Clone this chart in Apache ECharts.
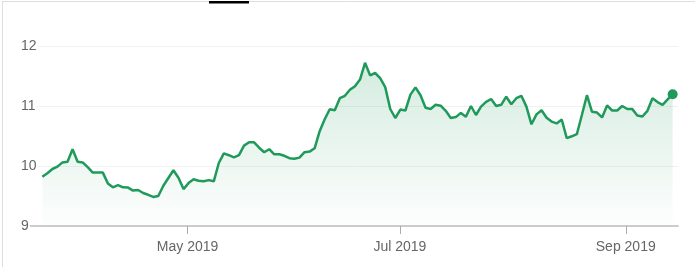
<!DOCTYPE html>
<html>
<head>
<meta charset="utf-8">
<script src="https://cdn.jsdelivr.net/npm/echarts@6/dist/echarts.min.js"></script>
<style>
  html, body { margin: 0; padding: 0; background: #fff; }
  #chart { width: 695px; height: 267px; }
</style>
</head>
<body>
<div id="chart"></div>
<script>
// Daily closing values (trading days, mid-March to mid-September 2019)
const values = [
  9.82, 9.88, 9.95, 9.99, 10.06, 10.07, 10.28, 10.07, 10.06, 9.98,
  9.89, 9.89, 9.89, 9.71, 9.645, 9.68, 9.645, 9.64, 9.59, 9.60,
  9.55, 9.52, 9.485, 9.50, 9.67, 9.80, 9.93, 9.805, 9.615, 9.715,
  9.78, 9.755, 9.745, 9.765, 9.745, 10.05, 10.21, 10.18, 10.145, 10.18,
  10.34, 10.395, 10.395, 10.305, 10.23, 10.28, 10.195, 10.195, 10.17, 10.13,
  10.12, 10.14, 10.23, 10.24, 10.295, 10.58, 10.78, 10.945, 10.93, 11.13,
  11.17, 11.27, 11.33, 11.44, 11.72, 11.51, 11.55, 11.465, 11.315, 10.95,
  10.80, 10.94, 10.925, 11.19, 11.31, 11.18, 10.97, 10.95, 11.02, 11.005,
  10.92, 10.80, 10.815, 10.885, 10.82, 11.00, 10.85, 10.99, 11.07, 11.115,
  11.00, 11.02, 11.155, 11.03, 11.13, 11.17, 10.99, 10.695, 10.86, 10.93,
  10.805, 10.74, 10.71, 10.775, 10.465, 10.495, 10.53, 10.85, 11.18, 10.905,
  10.89, 10.81, 11.01, 10.925, 10.925, 11.00, 10.95, 10.948, 10.843, 10.825,
  10.92, 11.13, 11.065, 11.02, 11.11, 11.195
];
// Month tick labels and their position along the trading-day index
const tickLabels = ['May 2019', 'Jul 2019', 'Sep 2019'];
const tickAt = [28.8, 70.9, 115.7];
const yTicks = [9, 10, 11, 12];

const lineColor = '#1f9a5b';
const seriesData = values.map((v, i) => [i, v]);
const lastPoint = [values.length - 1, values[values.length - 1]];

const chart = echarts.init(document.getElementById('chart'), null, { renderer: 'canvas' });
chart.setOption({
  animation: false,
  backgroundColor: '#fff',
  grid: { left: 29, right: 17, top: 46, bottom: 41, containLabel: false },
  xAxis: {
    type: 'value',
    min: -2.64,
    max: 126.06,
    axisLine: { show: true, lineStyle: { color: '#cccccc', width: 2 } },
    axisTick: {
      show: true, length: 8, customValues: tickAt,
      lineStyle: { color: '#aaaaaa', width: 1 }
    },
    axisLabel: {
      show: true, customValues: tickAt, margin: 14,
      fontFamily: 'Liberation Sans, Arial, sans-serif', fontSize: 14, color: '#666666',
      formatter: (val) => {
        const k = tickAt.findIndex(t => Math.abs(t - val) < 1e-6);
        return k >= 0 ? tickLabels[k] : '';
      }
    },
    splitLine: { show: false }
  },
  yAxis: {
    type: 'value',
    min: yTicks[0],
    max: yTicks[yTicks.length - 1],
    interval: 1,
    axisLine: { show: false },
    axisTick: { show: false },
    axisLabel: {
      align: 'left', margin: 8,
      fontFamily: 'Liberation Sans, Arial, sans-serif', fontSize: 14, color: '#666666',
      backgroundColor: '#ffffff', padding: [0, 1, 0, 0]
    },
    splitLine: { show: true, lineStyle: { color: '#f1f1f1', width: 1 } }
  },
  series: [
    {
      type: 'line',
      data: seriesData,
      showSymbol: false,
      symbol: 'none',
      lineStyle: { color: lineColor, width: 2.5 },
      areaStyle: {
        color: new echarts.graphic.LinearGradient(0, 0, 0, 1, [
          { offset: 0, color: 'rgba(31,154,91,0.27)' },
          { offset: 1, color: 'rgba(31,154,91,0.01)' }
        ])
      },
      z: 3
    },
    {
      type: 'scatter',
      data: [lastPoint],
      symbol: 'circle',
      symbolSize: 10,
      itemStyle: { color: lineColor, opacity: 1 },
      z: 4
    }
  ],
  graphic: [
    { type: 'line', shape: { x1: 2, y1: 1.5, x2: 695, y2: 1.5 }, style: { stroke: '#dedede', lineWidth: 1 } },
    { type: 'line', shape: { x1: 2.5, y1: 1, x2: 2.5, y2: 267 }, style: { stroke: '#dedede', lineWidth: 1 } },
    { type: 'rect', shape: { x: 209, y: 1, width: 40, height: 2.5 }, style: { fill: '#000' } }
  ]
});
</script>
</body>
</html>
